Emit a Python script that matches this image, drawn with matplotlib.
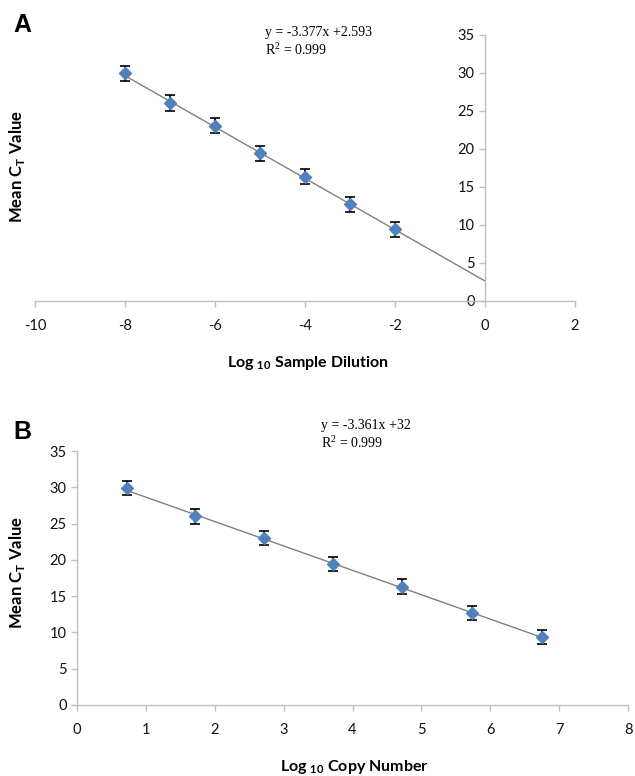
import matplotlib
matplotlib.use("Agg")
import matplotlib.pyplot as plt
import numpy as np

# Mean CT values (same in both panels)
ct_mean = [29.9, 26.0, 23.0, 19.4, 16.3, 12.7, 9.4]
ct_err = [1.0, 1.0, 1.0, 1.0, 1.0, 1.0, 1.0]

# Panel A: log10 sample dilution
dilution = [-8, -7, -6, -5, -4, -3, -2]
slope_a, icpt_a = -3.377, 2.593

# Panel B: log10 copy number
copies = [0.72, 1.72, 2.72, 3.72, 4.72, 5.74, 6.75]
slope_b, icpt_b = -3.361, 32.0

plt.rcParams['font.family'] = ['Lato', 'DejaVu Sans']
plt.rcParams['axes.unicode_minus'] = False
plt.rcParams['mathtext.fontset'] = 'custom'
plt.rcParams['mathtext.rm'] = 'Liberation Serif'
plt.rcParams['mathtext.bf'] = 'Lato:bold'

blue = '#4F81BD'
axis_gray = '#BFBFBF'
line_gray = '#808080'

fig = plt.figure(figsize=(6.35, 7.76), dpi=100)


def style_axes(ax):
    for s in ['top', 'right']:
        ax.spines[s].set_visible(False)
    for s in ['left', 'bottom']:
        ax.spines[s].set_color(axis_gray)
        ax.spines[s].set_linewidth(1.0)
    ax.tick_params(axis='both', direction='out', length=4, width=1.0,
                   color=axis_gray, labelsize=10.5, labelcolor='#111111')
    ax.tick_params(axis='x', pad=9)


def draw(ax, x, xfit, slope, icpt):
    xfit = np.array(xfit)
    ax.plot(xfit, slope * xfit + icpt, color=line_gray, lw=1.0, zorder=2)
    ax.errorbar(x, ct_mean, yerr=ct_err, fmt='D', color=blue, ms=6.5,
                mec=blue, ecolor='black', elinewidth=1.2, capsize=3.5,
                capthick=1.2, zorder=3)


# ---- Panel A ----
axA = fig.add_axes([0.0551, 0.6125, 0.8504, 0.3428])
draw(axA, dilution, [-8, 0], slope_a, icpt_a)
axA.set_xlim(-10, 2)
axA.set_ylim(0, 35)
axA.spines['left'].set_position(('data', 0))
axA.set_xticks(range(-10, 3, 2))
axA.set_yticks(range(0, 36, 5))
style_axes(axA)
axA.set_ylabel(r'Mean C$_{\mathbf{T}}$ Value', fontsize=12, fontweight='bold')
axA.yaxis.set_label_coords(-0.015, 0.506)
axA.set_xlabel(r'Log $_{\mathbf{10}}$ Sample Dilution', fontsize=11.5, fontweight='bold')
axA.xaxis.set_label_coords(0.506, -0.2)

# ---- Panel B ----
axB = fig.add_axes([0.1213, 0.0915, 0.8677, 0.3273])
draw(axB, copies, [copies[0], copies[-1]], slope_b, icpt_b)
axB.set_xlim(0, 8)
axB.set_ylim(0, 35)
axB.set_xticks(range(0, 9))
axB.set_yticks(range(0, 36, 5))
style_axes(axB)
axB.set_ylabel(r'Mean C$_{\mathbf{T}}$ Value', fontsize=12, fontweight='bold')
axB.yaxis.set_label_coords(-0.091, 0.52)
axB.set_xlabel(r'Log $_{\mathbf{10}}$ Copy Number', fontsize=11.5, fontweight='bold')
axB.xaxis.set_label_coords(0.503, -0.208)

# equations
eq_font = dict(family='Liberation Serif', fontsize=10, va='center', ha='left')
fig.text(0.417, 0.958, 'y = -3.377x +2.593', **eq_font)
fig.text(0.417, 0.936, r'R$^{2}$ = 0.999', **eq_font)
fig.text(0.506, 0.452, 'y = -3.361x +32', **eq_font)
fig.text(0.506, 0.429, r'R$^{2}$ = 0.999', **eq_font)

# panel letters
fig.text(0.035, 0.968, 'A', family='Liberation Sans', fontsize=18,
         fontweight='bold', ha='center', va='center')
fig.text(0.035, 0.443, 'B', family='Liberation Sans', fontsize=18,
         fontweight='bold', ha='center', va='center')

fig.savefig('out.png', dpi=100)
